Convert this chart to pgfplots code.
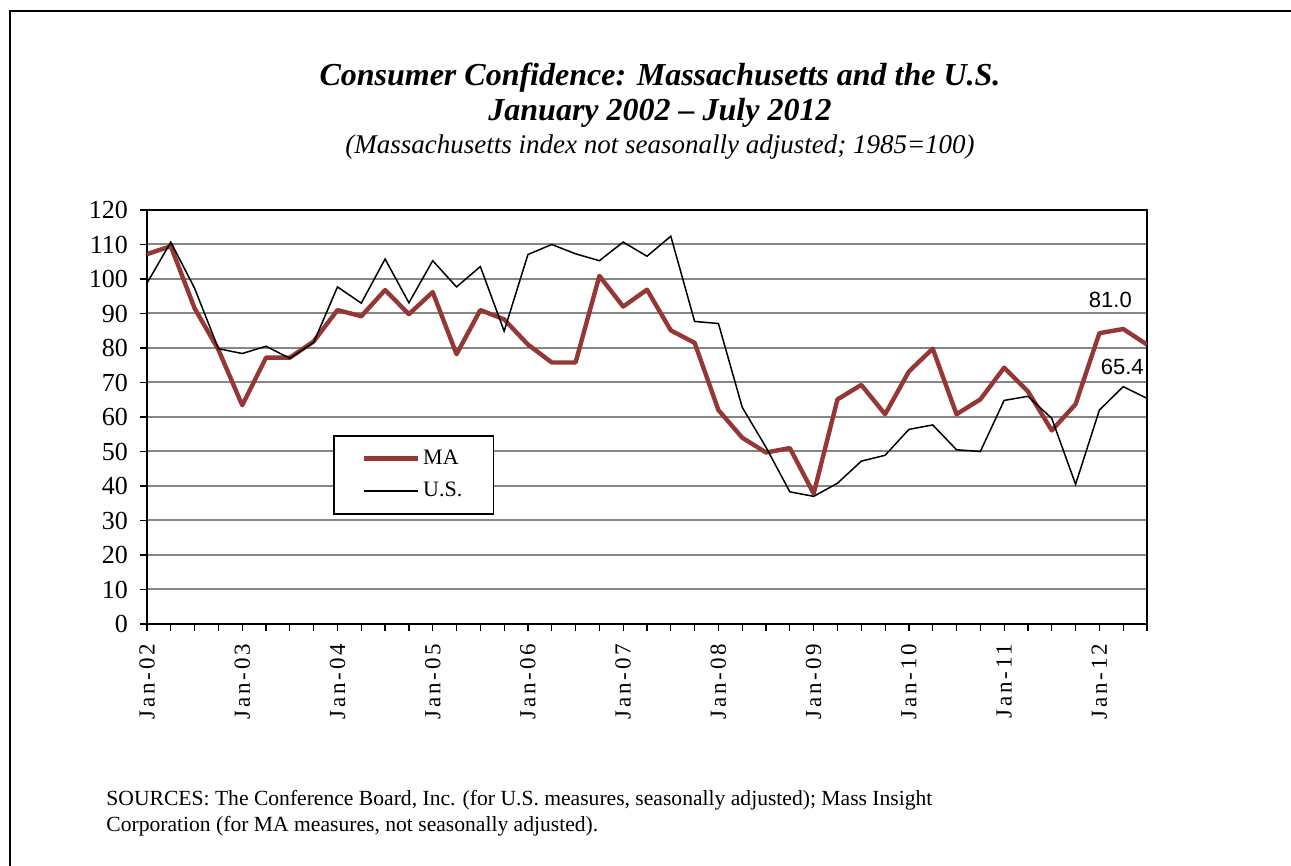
\documentclass[border=0pt]{standalone}
\usepackage{fontspec}
\setmainfont{Liberation Serif}
\newfontfamily\arial{Liberation Sans}
\newfontfamily\spaced[LetterSpace=12]{Liberation Serif}
\usepackage{pgfplots}
\pgfplotsset{compat=1.18}
\definecolor{maRed}{HTML}{953735}
\definecolor{gridGray}{HTML}{868686}

% quarterly index: 0 = Jan-02, 4 = Jan-03, ... 42 = Jul-12
\begin{document}
\begin{tikzpicture}
\useasboundingbox (0,0) rectangle (645.5pt,433pt);
% outer frame (top and left only visible)
\draw[line width=1.1pt] (5pt,0) -- (5pt,427.5pt) -- (645.5pt,427.5pt);

\node[font=\fontsize{16}{18}\selectfont\bfseries\itshape] at (330pt,394pt)
  {Consumer Confidence: Massachusetts and the U.S.};
\node[font=\fontsize{16}{18}\selectfont\bfseries\itshape] at (330pt,376.5pt)
  {January 2002 -- July 2012};
\node[font=\fontsize{13.5}{15}\selectfont\itshape] at (330pt,359.5pt)
  {(Massachusetts index not seasonally adjusted; 1985=100)};

\begin{axis}[
    at={(73.5pt,121pt)}, anchor=south west,
    scale only axis,
    width=500pt, height=207pt,
    xmin=0, xmax=42,
    ymin=0, ymax=120,
    xtick={0,4,...,40},
    xticklabels={Jan-02,Jan-03,Jan-04,Jan-05,Jan-06,Jan-07,Jan-08,Jan-09,Jan-10,Jan-11,Jan-12},
    minor xtick={0,1,...,42},
    ytick={0,10,...,120},
    tick align=outside,
    major tick length=3.5pt, minor tick length=3.5pt,
    tick style={black, line width=0.6pt},
    xtick pos=bottom, ytick pos=left,
    x tick label style={rotate=90, anchor=east, font=\fontsize{11.5}{13}\selectfont\spaced},
    y tick label style={font=\fontsize{13}{15}\selectfont},
    xticklabel shift=3pt,
    yticklabel shift=2.5pt,
    /pgf/number format/assume math mode=true,
    ymajorgrids,
    grid style={gridGray, line width=1pt},
    axis line style={black, line width=1.3pt},
    legend style={at={(0.186,0.4565)}, anchor=north west, draw=black, line width=0.8pt,
        font=\fontsize{11}{13}\selectfont, inner xsep=14pt, inner ysep=5.5pt, row sep=4.5pt,
        nodes={inner sep=1.5pt}},
    legend cell align=left,
    legend image code/.code={\draw[#1] (0pt,0pt) -- (27pt,0pt);},
]
\addplot[maRed, line width=2.2pt, line join=round] coordinates {
(0,107.2) (1,109.5) (2,91.5) (3,79.5) (4,63.4) (5,77.2) (6,77.2) (7,81.9)
(8,91.0) (9,89.2) (10,96.8) (11,89.8) (12,96.2) (13,78.2) (14,91.0) (15,88.3)
(16,81.0) (17,75.8) (18,75.8) (19,100.9) (20,92.0) (21,96.9) (22,85.1) (23,81.5)
(24,62.0) (25,54.0) (26,49.7) (27,51.0) (28,37.8) (29,65.1) (30,69.3) (31,60.8)
(32,73.2) (33,79.8) (34,60.8) (35,65.1) (36,74.3) (37,67.4) (38,56.1) (39,63.7)
(40,84.3) (41,85.5) (42,81.0)
};
\addlegendentry{MA}
\addplot[black, line width=0.75pt] coordinates {
(0,98.8) (1,110.7) (2,97.3) (3,79.8) (4,78.4) (5,80.5) (6,77.0) (7,81.6)
(8,97.7) (9,93.0) (10,105.8) (11,93.1) (12,105.3) (13,97.7) (14,103.6) (15,84.9)
(16,107.1) (17,110.0) (18,107.3) (19,105.3) (20,110.7) (21,106.6) (22,112.4) (23,87.7)
(24,87.1) (25,62.8) (26,51.2) (27,38.3) (28,37.0) (29,40.8) (30,47.2) (31,48.9)
(32,56.4) (33,57.7) (34,50.5) (35,50.0) (36,64.8) (37,66.0) (38,59.6) (39,40.5)
(40,62.0) (41,68.8) (42,65.4)
};
\addlegendentry{U.S.}
\node[font=\arial\fontsize{11}{13}\selectfont] at (axis cs:40.46,93.9) {81.0};
\node[font=\arial\fontsize{11}{13}\selectfont] at (axis cs:40.96,74.5) {65.4};
\end{axis}

\node[anchor=base west, inner sep=0pt, font=\fontsize{10.8}{12}\selectfont] at (53pt,30pt)
  {SOURCES: The Conference Board, Inc. (for U.S. measures, seasonally adjusted); Mass Insight};
\node[anchor=base west, inner sep=0pt, font=\fontsize{10.8}{12}\selectfont] at (53pt,17pt)
  {Corporation (for MA measures, not seasonally adjusted).};
\end{tikzpicture}
\end{document}
